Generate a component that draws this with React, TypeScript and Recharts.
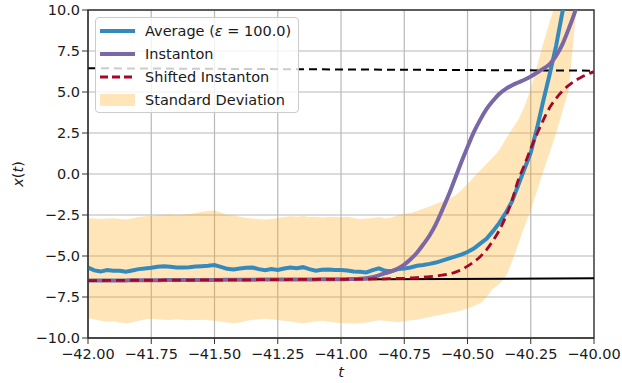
import React from 'react';
import {
  ComposedChart,
  Line,
  Area,
  XAxis,
  YAxis,
  CartesianGrid,
  Legend,
  ReferenceArea,
} from 'recharts';

// Sample times t
const times = [
  -42, -41.975, -41.95, -41.925, -41.9, -41.875, -41.85, -41.825, -41.8, -41.775,
  -41.75, -41.725, -41.7, -41.675, -41.65, -41.625, -41.6, -41.575, -41.55, -41.525,
  -41.5, -41.475, -41.45, -41.425, -41.4, -41.375, -41.35, -41.325, -41.3, -41.275,
  -41.25, -41.225, -41.2, -41.175, -41.15, -41.125, -41.1, -41.075, -41.05, -41.025,
  -41, -40.975, -40.95, -40.925, -40.9, -40.875, -40.85, -40.825, -40.8, -40.775,
  -40.75, -40.725, -40.7, -40.675, -40.65, -40.625, -40.6, -40.575, -40.55, -40.525,
  -40.5, -40.475, -40.45, -40.425, -40.4, -40.375, -40.35, -40.325, -40.3, -40.275,
  -40.25, -40.225, -40.2, -40.175, -40.15, -40.125, -40.1, -40.075, -40.05, -40.025,
  -40,
];

// Ensemble average of x(t)
const average = [
  -5.7, -5.88, -5.95, -5.86, -5.9, -5.9, -5.96, -5.88, -5.8, -5.76,
  -5.72, -5.66, -5.62, -5.65, -5.7, -5.7, -5.68, -5.64, -5.62, -5.6,
  -5.55, -5.66, -5.78, -5.82, -5.76, -5.72, -5.7, -5.8, -5.86, -5.8,
  -5.85, -5.76, -5.7, -5.74, -5.68, -5.8, -5.9, -5.84, -5.82, -5.86,
  -5.85, -5.88, -5.94, -5.96, -6.0, -5.86, -5.75, -5.9, -5.93, -5.8,
  -5.76, -5.7, -5.6, -5.55, -5.48, -5.4, -5.28, -5.16, -5.04, -4.92,
  -4.76, -4.55, -4.25, -3.95, -3.5, -3.0, -2.4, -1.7, -0.7, 0.3,
  1.3, 2.8, 4.5, 6.1, 7.8, 9.85, 11.5, null, null, null,
  null,
];

// Instanton path
const instanton = [
  -6.5, -6.5, -6.5, -6.49, -6.49, -6.49, -6.49, -6.48, -6.48, -6.48,
  -6.48, -6.48, -6.47, -6.47, -6.47, -6.47, -6.47, -6.46, -6.46, -6.46,
  -6.46, -6.46, -6.45, -6.45, -6.45, -6.45, -6.45, -6.44, -6.44, -6.44,
  -6.44, -6.44, -6.43, -6.43, -6.43, -6.43, -6.43, -6.42, -6.42, -6.42,
  -6.42, -6.41, -6.4, -6.38, -6.35, -6.3, -6.18, -6.05, -5.92, -5.76,
  -5.52, -5.2, -4.8, -4.3, -3.75, -3.05, -2.2, -1.3, -0.3, 0.7,
  1.65, 2.55, 3.3, 3.95, 4.45, 4.88, 5.18, 5.4, 5.58, 5.75,
  5.95, 6.18, 6.42, 6.7, 7.2, 7.9, 8.85, 9.9, 11.2, null,
  null,
];

// Instanton shifted in time
const shifted = [
  -6.5, -6.5, -6.5, -6.49, -6.49, -6.49, -6.49, -6.48, -6.48, -6.48,
  -6.48, -6.48, -6.47, -6.47, -6.47, -6.47, -6.47, -6.46, -6.46, -6.46,
  -6.46, -6.46, -6.45, -6.45, -6.45, -6.45, -6.45, -6.44, -6.44, -6.44,
  -6.44, -6.44, -6.43, -6.43, -6.43, -6.43, -6.43, -6.42, -6.42, -6.42,
  -6.42, -6.42, -6.42, -6.41, -6.41, -6.4, -6.4, -6.39, -6.38, -6.37,
  -6.36, -6.34, -6.32, -6.29, -6.26, -6.22, -6.17, -6.1, -6.0, -5.84,
  -5.62, -5.36, -5.04, -4.62, -4.08, -3.45, -2.65, -1.65, -0.4, 0.55,
  1.55, 2.45, 3.3, 4.05, 4.6, 5.05, 5.4, 5.68, 5.9, 6.08,
  6.24,
];

// Average + one standard deviation
const stdUpper = [
  -2.7, -2.72, -2.75, -2.72, -2.7, -2.74, -2.78, -2.7, -2.62, -2.58,
  -2.56, -2.52, -2.48, -2.46, -2.5, -2.47, -2.45, -2.38, -2.3, -2.25,
  -2.22, -2.35, -2.5, -2.52, -2.6, -2.68, -2.72, -2.75, -2.78, -2.75,
  -2.68, -2.62, -2.58, -2.6, -2.56, -2.62, -2.6, -2.66, -2.62, -2.6,
  -2.64, -2.6, -2.68, -2.75, -2.72, -2.68, -2.62, -2.72, -2.66, -2.52,
  -2.42, -2.38, -2.26, -2.12, -1.98, -1.82, -1.68, -1.52, -1.32, -1.0,
  -0.6, -0.18, 0.22, 0.62, 1.0, 1.45, 2.1, 2.7, 3.3, 4.1,
  5.2, 6.6, 8.0, 9.3, 10.5, 11.8, 13.0, 14.2, 15.4, null,
  null,
];

// Average - one standard deviation
const stdLower = [
  -8.8, -8.85, -8.95, -9.0, -8.98, -9.05, -9.1, -9.05, -8.95, -8.85,
  -8.82, -8.85, -8.88, -8.9, -8.85, -8.88, -8.92, -8.9, -8.88, -8.92,
  -8.95, -9.0, -9.05, -9.1, -9.05, -8.95, -8.9, -8.85, -8.82, -8.85,
  -8.9, -8.95, -9.0, -9.05, -9.1, -9.05, -8.98, -8.95, -9.0, -9.05,
  -9.08, -9.1, -9.12, -9.1, -9.05, -9.0, -8.92, -8.95, -9.0, -9.02,
  -8.98, -8.92, -8.88, -8.8, -8.72, -8.64, -8.56, -8.48, -8.42, -8.32,
  -8.2, -8.05, -7.88, -7.5, -7.0, -6.7, -6.3, -5.4, -4.3, -3.2,
  -2.2, -1.0, 0.2, 1.3, 2.5, 3.8, 5.1, 9.2, 12.6, null,
  null,
];

// Fixed points of the drift (lower stable branch, upper branch)
const lowerBranch = [
  { t: -42, v: -6.5 },
  { t: -40, v: -6.36 },
];
const upperBranch = [
  { t: -42, v: 6.45 },
  { t: -40, v: 6.3 },
];

const xTicks = [-42, -41.75, -41.5, -41.25, -41, -40.75, -40.5, -40.25, -40];
const yTicks = [-10, -7.5, -5, -2.5, 0, 2.5, 5, 7.5, 10];

const rows = times.map((t, i) => ({
  t,
  avg: average[i],
  inst: instanton[i],
  shift: shifted[i],
  band:
    stdLower[i] == null || stdUpper[i] == null ? null : [stdLower[i], stdUpper[i]],
}));

const FONT = '"DejaVu Sans", sans-serif';
const BLUE = '#348ABD';
const PURPLE = '#7A68A6';
const RED = '#A60628';
const BAND = '#FFA000';

const minus = (s: string) => s.replace('-', '\u2212');
const fmtX = (v: number) => minus(v.toFixed(2));
const fmtY = (v: number) => minus(v.toFixed(1));

const tickStyle = { fontSize: 14.5, fill: '#1a1a1a', fontFamily: FONT };

function LegendBox() {
  const row: React.CSSProperties = {
    display: 'flex',
    alignItems: 'center',
    height: 23,
  };
  const text: React.CSSProperties = {
    fontFamily: FONT,
    fontSize: 14.5,
    color: '#1a1a1a',
    marginLeft: 10,
    whiteSpace: 'nowrap',
  };
  return (
    <div
      style={{
        boxSizing: 'border-box',
        width: 204,
        height: 96,
        padding: '1px 0 0 4px',
        border: '1px solid #cccccc',
        borderRadius: 4,
        background: 'rgba(255,255,255,0.8)',
      }}
    >
      <div style={row}>
        <svg width={35} height={10}>
          <line x1={0} y1={5} x2={35} y2={5} stroke={BLUE} strokeWidth={4} />
        </svg>
        <span style={text}>
          Average (<i>ε</i> = 100.0)
        </span>
      </div>
      <div style={row}>
        <svg width={35} height={10}>
          <line x1={0} y1={5} x2={35} y2={5} stroke={PURPLE} strokeWidth={4} />
        </svg>
        <span style={text}>Instanton</span>
      </div>
      <div style={row}>
        <svg width={35} height={10}>
          <line
            x1={0}
            y1={5}
            x2={35}
            y2={5}
            stroke={RED}
            strokeWidth={2.8}
            strokeDasharray="8 4"
          />
        </svg>
        <span style={text}>Shifted Instanton</span>
      </div>
      <div style={row}>
        <svg width={35} height={12}>
          <rect x={0} y={0} width={35} height={12} fill={BAND} fillOpacity={0.28} />
        </svg>
        <span style={text}>Standard Deviation</span>
      </div>
    </div>
  );
}

const YLabel = (props: any) => {
  const vb = props.viewBox || {};
  const cx = vb.x - 10;
  const cy = vb.y + vb.height / 2;
  return (
    <text
      x={cx}
      y={cy}
      transform={`rotate(-90 ${cx} ${cy})`}
      textAnchor="middle"
      dominantBaseline="central"
      fontFamily={FONT}
      fontSize={14.5}
      fill="#1a1a1a"
    >
      <tspan fontStyle="italic">x</tspan>(<tspan fontStyle="italic">t</tspan>)
    </text>
  );
};

const XLabel = (props: any) => {
  const vb = props.viewBox || {};
  const cx = vb.x + vb.width / 2;
  const cy = vb.y + 39;
  return (
    <text
      x={cx}
      y={cy}
      textAnchor="middle"
      fontFamily={FONT}
      fontSize={14.5}
      fontStyle="italic"
      fill="#1a1a1a"
    >
      t
    </text>
  );
};

export default function App() {
  return (
    <div style={{ position: 'absolute', left: 0, top: 0, background: '#fff' }}>
      <ComposedChart
        width={622}
        height={383}
        data={rows}
        margin={{ top: 10, right: 28, bottom: 15, left: 28 }}
      >
        <CartesianGrid stroke="#b8b8b8" strokeWidth={1.2} />
        <XAxis
          dataKey="t"
          type="number"
          domain={[-42, -40]}
          ticks={xTicks}
          allowDataOverflow
          tickFormatter={fmtX}
          tick={tickStyle}
          tickSize={6}
          tickMargin={5}
          height={30}
          stroke="#333"
          interval={0}
          label={<XLabel />}
        />
        <YAxis
          type="number"
          domain={[-10, 10]}
          ticks={yTicks}
          allowDataOverflow
          tickFormatter={fmtY}
          tick={tickStyle}
          tickSize={6}
          tickMargin={2}
          width={60}
          stroke="#333"
          interval={0}
          label={<YLabel />}
        />
        <Area
          dataKey="band"
          type="linear"
          stroke="none"
          fill={BAND}
          fillOpacity={0.28}
          isAnimationActive={false}
          connectNulls={false}
          legendType="none"
        />
        <Line
          data={lowerBranch}
          dataKey="v"
          type="linear"
          stroke="#000"
          strokeWidth={2}
          dot={false}
          isAnimationActive={false}
        />
        <Line
          data={upperBranch}
          dataKey="v"
          type="linear"
          stroke="#000"
          strokeWidth={2}
          strokeDasharray="8 5"
          dot={false}
          isAnimationActive={false}
        />
        <Line
          dataKey="avg"
          type="linear"
          stroke={BLUE}
          strokeWidth={4}
          dot={false}
          isAnimationActive={false}
        />
        <Line
          dataKey="inst"
          type="monotone"
          stroke={PURPLE}
          strokeWidth={4}
          dot={false}
          isAnimationActive={false}
        />
        <Line
          dataKey="shift"
          type="monotone"
          stroke={RED}
          strokeWidth={2.8}
          strokeDasharray="9 5"
          dot={false}
          isAnimationActive={false}
        />
        <ReferenceArea
          x1={-42}
          x2={-40}
          y1={-10}
          y2={10}
          fill="none"
          stroke="#333"
          strokeWidth={1.3}
        />
        <Legend
          layout="vertical"
          align="center"
          verticalAlign="middle"
          wrapperStyle={{ left: 95, top: 17, width: 204, height: 96 }}
          content={() => <LegendBox />}
        />
      </ComposedChart>
    </div>
  );
}
